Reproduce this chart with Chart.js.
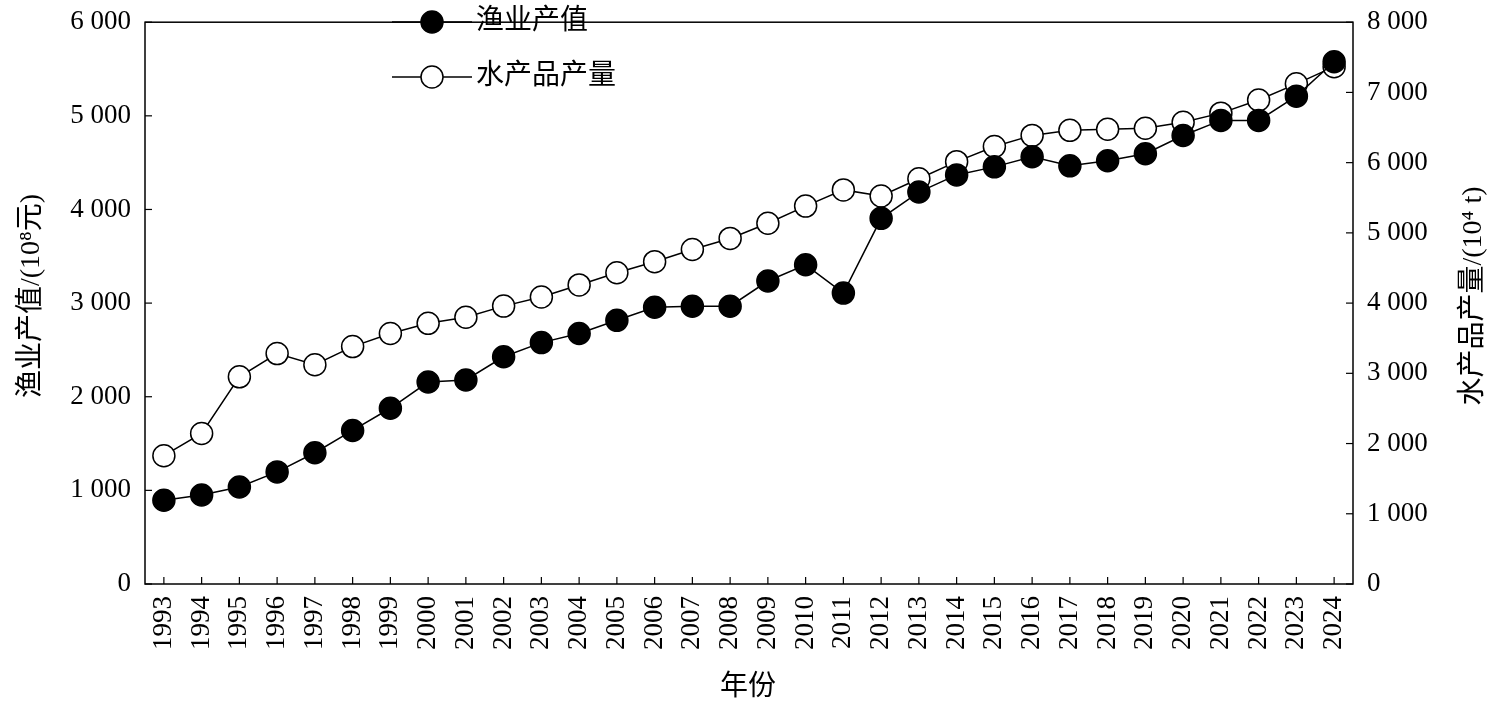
<!DOCTYPE html>
<html><head><meta charset="utf-8">
<script src="https://cdn.jsdelivr.net/npm/chart.js@4"></script>
<style>html,body{margin:0;background:#fff}#wrap{width:1493px;height:708px}</style>
</head><body><div id="wrap"><canvas id="chart"></canvas></div>
<script>
const years = [];
for (let y = 1993; y <= 2024; y++) years.push(String(y));
const fisheryValue = [895,950,1036,1197,1402,1640,1877,2157,2179,2427,2578,2675,2816,2956,2967,2967,3236,3409,3107,3905,4186,4369,4455,4563,4466,4520,4595,4790,4951,4951,5210,5577];
const aquaticOutput = [1827,2144,2950,3281,3122,3381,3568,3712,3799,3957,4086,4259,4432,4590,4763,4921,5137,5381,5612,5525,5770,6014,6230,6388,6460,6475,6489,6576,6705,6892,7122,7367];
const FONT = '"Liberation Serif", "Noto Sans CJK SC", serif';
const fmt = v => String(v).replace(/\B(?=(\d{3})+(?!\d))/g, ' ');

const deco = {
  id: 'deco',
  afterDraw(c) {
    const ctx = c.ctx, a = c.chartArea;
    ctx.save();
    ctx.strokeStyle = '#000'; ctx.lineWidth = 1.5;
    ctx.strokeRect(a.left, a.top, a.right - a.left, a.bottom - a.top);
    ctx.lineWidth = 1.2;
    const yl = c.scales.y, yr = c.scales.y1, x = c.scales.x;
    yl.ticks.forEach(t => { const p = yl.getPixelForValue(t.value); ctx.beginPath(); ctx.moveTo(a.left, p); ctx.lineTo(a.left + 7, p); ctx.stroke(); });
    yr.ticks.forEach(t => { const p = yr.getPixelForValue(t.value); ctx.beginPath(); ctx.moveTo(a.right, p); ctx.lineTo(a.right - 7, p); ctx.stroke(); });
    years.forEach((_, i) => { const p = x.getPixelForValue(i); ctx.beginPath(); ctx.moveTo(p, a.bottom); ctx.lineTo(p, a.bottom - 7); ctx.stroke(); });
    // legend
    ctx.lineWidth = 1.5;
    ctx.fillStyle = '#000'; ctx.font = '28px ' + FONT; ctx.textBaseline = 'middle';
    [[22, true, '渔业产值'], [77, false, '水产品产量']].forEach(([yy, filled, txt]) => {
      ctx.beginPath(); ctx.moveTo(392, yy); ctx.lineTo(472, yy); ctx.stroke();
      ctx.beginPath(); ctx.arc(432, yy, 11, 0, Math.PI * 2);
      ctx.fillStyle = filled ? '#000' : '#fff'; ctx.fill(); ctx.stroke();
      ctx.fillStyle = '#000'; ctx.fillText(txt, 476, yy);
    });
    // axis titles
    ctx.textAlign = 'center';
    ctx.save(); ctx.translate(32, 296); ctx.rotate(-Math.PI / 2);
    ctx.fillText('渔业产值/(10⁸元)', 0, 0); ctx.restore();
    ctx.save(); ctx.translate(1474, 296); ctx.rotate(-Math.PI / 2);
    ctx.fillText('水产品产量/(10⁴ t)', 0, 0); ctx.restore();
    ctx.fillText('年份', 748, 688);
    ctx.restore();
  }
};

new Chart(document.getElementById('chart'), {
  type: 'line',
  data: {
    labels: years,
    datasets: [
      { label: '渔业产值', data: fisheryValue, yAxisID: 'y', borderColor: '#000', borderWidth: 1.5,
        pointRadius: 11, pointBackgroundColor: '#000', pointBorderColor: '#000', pointBorderWidth: 1.5 },
      { label: '水产品产量', data: aquaticOutput, yAxisID: 'y1', borderColor: '#000', borderWidth: 1.5,
        pointRadius: 11, pointBackgroundColor: '#fff', pointBorderColor: '#000', pointBorderWidth: 1.5 }
    ]
  },
  options: {
    responsive: true, maintainAspectRatio: false, animation: false,
    layout: { padding: { top: 18, bottom: 54, left: 62, right: 42 } },
    plugins: { legend: { display: false }, tooltip: { enabled: false } },
    scales: {
      x: { offset: true, grid: { display: false }, border: { display: false },
        ticks: { color: '#000', font: { family: FONT, size: 27 }, maxRotation: 90, minRotation: 90, autoSkip: false, padding: 4 } },
      y: { position: 'left', min: 0, max: 6000, grid: { display: false }, border: { display: false },
        afterFit: s => { s.width = 83; },
        ticks: { stepSize: 1000, color: '#000', font: { family: FONT, size: 27 }, callback: fmt, padding: 6 } },
      y1: { position: 'right', min: 0, max: 8000, grid: { display: false }, border: { display: false },
        afterFit: s => { s.width = 98; },
        ticks: { stepSize: 1000, color: '#000', font: { family: FONT, size: 27 }, callback: fmt, padding: 6 } }
    }
  },
  plugins: [deco]
});
</script></body></html>
